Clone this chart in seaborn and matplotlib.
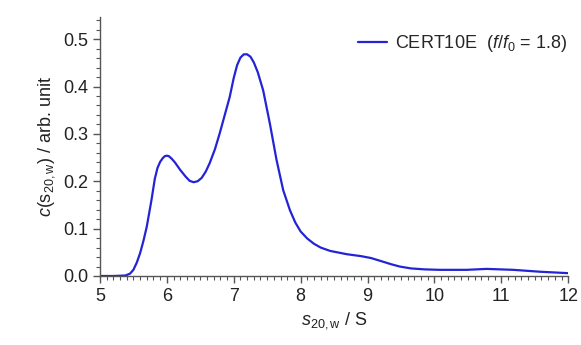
import numpy as np
import pandas as pd
import matplotlib
matplotlib.use("Agg")
import matplotlib.pyplot as plt
from matplotlib.ticker import MultipleLocator
import seaborn as sns

# c(s) distribution
s_values = [5.0, 5.2, 5.38, 5.45, 5.5, 5.55, 5.6, 5.65, 5.7, 5.77, 5.82, 5.86, 5.9, 5.94,
            5.97, 6.0, 6.03, 6.07, 6.12, 6.2, 6.28, 6.34, 6.4, 6.46, 6.52, 6.58, 6.64,
            6.72, 6.79, 6.87, 6.94, 7.0, 7.05, 7.1, 7.15, 7.2, 7.25, 7.3, 7.36, 7.44,
            7.54, 7.64, 7.74, 7.84, 7.92, 8.0, 8.1, 8.2, 8.3, 8.44, 8.69, 8.9, 9.05,
            9.19, 9.35, 9.48, 9.65, 9.85, 10.08, 10.48, 10.78, 11.18, 11.58, 12.0]
c_values = [0.0, 0.0, 0.001, 0.005, 0.013, 0.028, 0.048, 0.074, 0.104, 0.16, 0.205, 0.228, 0.241, 0.249,
            0.253, 0.254, 0.253, 0.248, 0.24, 0.224, 0.21, 0.201, 0.198, 0.2, 0.207, 0.22, 0.238,
            0.268, 0.301, 0.342, 0.378, 0.418, 0.445, 0.461, 0.468, 0.468, 0.463, 0.451, 0.43, 0.392,
            0.322, 0.245, 0.181, 0.139, 0.113, 0.094, 0.079, 0.068, 0.060, 0.053, 0.046, 0.042, 0.038,
            0.032, 0.025, 0.020, 0.016, 0.014, 0.013, 0.013, 0.015, 0.013, 0.009, 0.006]
series_label = "CERT10E  ($\\it{f}$/$\\it{f}_0$ = 1.8)"

df = pd.DataFrame({"s": s_values, "c": c_values})

sns.set_style("ticks")
plt.rcParams["font.family"] = ["Liberation Sans", "DejaVu Sans"]
plt.rcParams["mathtext.fontset"] = "custom"
plt.rcParams["mathtext.rm"] = "Liberation Sans"
plt.rcParams["mathtext.it"] = "Liberation Sans:italic"

fig = plt.figure(figsize=(5.81, 3.45), dpi=100)
ax = fig.add_axes([0.172, 0.2, 0.806, 0.751])

sns.lineplot(data=df, x="s", y="c", ax=ax, color="#2424d6", linewidth=1.6, label=series_label)

ax.set_xlim(5, 12)
ax.set_ylim(0, 0.547)
ax.xaxis.set_major_locator(MultipleLocator(1))
ax.xaxis.set_minor_locator(MultipleLocator(0.1))
ax.yaxis.set_major_locator(MultipleLocator(0.1))
ax.yaxis.set_minor_locator(MultipleLocator(0.02))
ax.yaxis.set_major_formatter(matplotlib.ticker.FormatStrFormatter("%.1f"))

for side in ["top", "right"]:
    ax.spines[side].set_visible(False)
for side in ["left", "bottom"]:
    ax.spines[side].set_color("#555555")
    ax.spines[side].set_linewidth(1.0)

ax.tick_params(which="major", direction="out", length=5, width=1, color="#555555",
               labelsize=13, labelcolor="#222222")
ax.tick_params(which="minor", direction="out", length=3, width=0.8, color="#555555")

ax.set_xlabel("$\\it{s}_{20,\\mathrm{w}}$ / S", fontsize=13, color="#222222")
ax.set_ylabel("$\\it{c}$(s$_{20,\\mathrm{w}}$) / arb. unit", fontsize=13, color="#222222")

ax.legend(loc="upper right", frameon=False, fontsize=13, handlelength=1.6,
          handletextpad=0.45, bbox_to_anchor=(1.032, 1.0))

fig.savefig("out.png", dpi=100)
